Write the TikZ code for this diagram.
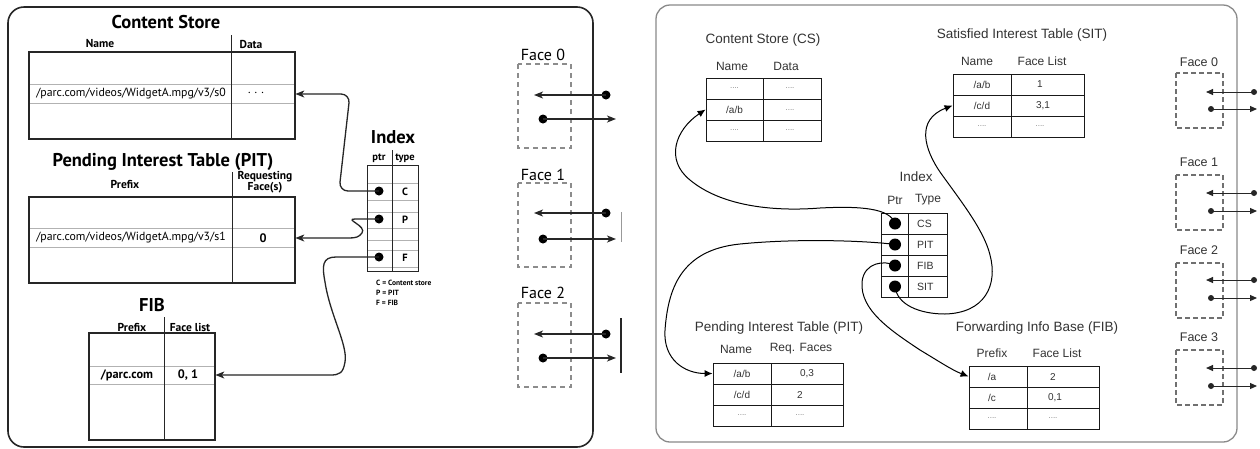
\documentclass[tikz,border=0pt]{standalone}
\usepackage{fontspec}
\newfontfamily\lsans{PT Sans}
\newfontfamily\rsans{Liberation Sans}
\usetikzlibrary{arrows.meta}
\definecolor{rtext}{HTML}{333333}
\definecolor{rgrid}{HTML}{8A8A8A}
\definecolor{ldash}{HTML}{8C8C8C}
\definecolor{rdash}{HTML}{707070}

\tikzset{
  lpanel/.style={draw=black!85, line width=1.6pt, rounded corners=16pt},
  rpanel/.style={draw=rgrid, line width=1.3pt, rounded corners=14pt},
  ltitle/.style={font=\lsans\bfseries\fontsize{18.5}{20}\selectfont, inner sep=0},
  lhead/.style={font=\lsans\bfseries\fontsize{11.5}{11}\selectfont, inner sep=0, align=center},
  lsmall/.style={font=\lsans\bfseries\fontsize{10.5}{11}\selectfont, inner sep=0},
  lcell/.style={font=\lsans\fontsize{11.8}{13}\selectfont, inner sep=0},
  lbcell/.style={font=\lsans\bfseries\fontsize{12.3}{13}\selectfont, inner sep=0},
  lframe/.style={draw=black!85, line width=1.3pt, inner sep=0},
  lrow/.style={draw=black!30, line width=0.7pt, inner sep=0},
  ldiv/.style={draw=black!85, line width=1pt},
  ldot/.style={circle, fill=black, inner sep=0, minimum size=9pt},
  larrow/.style={draw=black!85, line width=1.3pt, -{Stealth[length=9pt,width=7pt,inset=2.5pt]}},
  lbox/.style={draw=ldash, line width=2pt, dash pattern=on 5pt off 4pt},
  lface/.style={font=\lsans\fontsize{16}{18}\selectfont, inner sep=0},
  llegend/.style={font=\lsans\bfseries\fontsize{7.5}{9}\selectfont, inner sep=0, anchor=west},
  rlabel/.style={font=\rsans\fontsize{13.5}{15}\selectfont, text=rtext, inner sep=0},
  rhead/.style={font=\rsans\fontsize{12}{13}\selectfont, text=rtext, inner sep=0},
  rcell/.style={font=\rsans\fontsize{10}{11}\selectfont, text=rtext, inner sep=0},
  rtype/.style={font=\rsans\fontsize{10.5}{12}\selectfont, text=rtext, inner sep=0, anchor=west},
  rfill/.style={font=\rsans\fontsize{8}{9}\selectfont, text=black!50, inner sep=0},
  rrow/.style={draw=black!90, line width=0.9pt, inner sep=0},
  rdiv/.style={draw=black!90, line width=0.9pt},
  rdot/.style={circle, fill=black, inner sep=0, minimum size=12pt},
  rarrow/.style={draw=black, line width=1pt, -{Latex[length=8pt,width=7pt]}},
  rbox/.style={draw=rdash, line width=1.2pt, dash pattern=on 5pt off 3pt},
  rface/.style={font=\rsans\fontsize{12.5}{14}\selectfont, text=rtext, inner sep=0},
  rfdot/.style={circle, fill=black!85, inner sep=0, minimum size=6pt},
  rflink/.style={draw=black!85, line width=1pt, -{Triangle[length=7pt,width=6pt]}},
}

\begin{document}
\begin{tikzpicture}[x={(1pt,0)}, y={(0,-1pt)}]
\useasboundingbox (0,0) rectangle (1260,448);
\fill[white] (0,0) rectangle (1260,448);

% ================= left router =================
\draw[lpanel] (8,7) rectangle (593,447);

% Content Store
\node[ltitle] (lcs-title) at (166,22) {Content Store};
\node[lhead] (lcs-h1) at (100,44) {Name};
\node[lhead] (lcs-h2) at (251,44) {Data};
\node[lrow, minimum width=266pt, minimum height=19pt] (lcs-r2) at (162,94) {};
\node[lframe, minimum width=266pt, minimum height=87pt] (lcs) at (162,95.5) {};
\draw[ldiv] (231,35) -- (231,139);
\node[lcell] (lcs-name) at (131,94) {/parc.com/videos/WidgetA.mpg/v3/s0};
\node[lcell] (lcs-data) at (256,93) {. . .};

% Pending Interest Table
\node[ltitle] (lpit-title) at (163,162) {Pending Interest Table (PIT)};
\node[lhead] (lpit-h1) at (125,184) {Prefix};
\node[lhead] (lpit-h2) at (265,182) {Requesting\\Face(s)};
\node[lrow, minimum width=266pt, minimum height=19pt] (lpit-r2) at (162,238) {};
\node[lframe, minimum width=266pt, minimum height=86pt] (lpit) at (162,240) {};
\draw[ldiv] (232,172) -- (232,283);
\node[lcell] (lpit-name) at (131,238) {/parc.com/videos/WidgetA.mpg/v3/s1};
\node[lbcell] (lpit-face) at (263,238) {0};

% Forwarding Information Base
\node[ltitle] (lfib-title) at (152,305) {FIB};
\node[lhead] (lfib-h1) at (132,327) {Prefix};
\node[lhead] (lfib-h2) at (190,327) {Face list};
\node[lrow, minimum width=126pt, minimum height=18pt] (lfib-r2) at (152,375) {};
\node[lframe, minimum width=126pt, minimum height=107pt] (lfib) at (152,386.5) {};
\draw[ldiv] (164,317) -- (164,440);
\node[lbcell] (lfib-name) at (127,375) {/parc.com};
\node[lbcell] (lfib-face) at (188,375) {0, 1};

% Index
\node[ltitle] (lidx-title) at (393,137) {Index};
\node[lsmall] (lidx-h1) at (379,158) {ptr};
\node[lsmall] (lidx-h2) at (405,158) {type};
\node[lrow, minimum width=51pt, minimum height=17pt] (lidx-c) at (392.5,191.5) {};
\node[lrow, minimum width=51pt, minimum height=16pt] (lidx-p) at (392.5,220) {};
\node[lrow, minimum width=51pt, minimum height=10pt] (lidx-x) at (392.5,245) {};
\node[lrow, minimum width=51pt, minimum height=17pt] (lidx-f) at (392.5,258.5) {};
\node[lframe, line width=1pt, minimum width=51pt, minimum height=106pt] (lidx) at (392.5,218) {};
\draw[ldiv] (392,150) -- (392,271);
\node[ldot] (lptr-c) at (379,191) {};
\node[ldot] (lptr-p) at (379,219) {};
\node[ldot] (lptr-f) at (379,257) {};
\node[lsmall] (ltype-c) at (405,192) {C};
\node[lsmall] (ltype-p) at (405,220) {P};
\node[lsmall] (ltype-f) at (405,258) {F};
\node[llegend] (lkey-c) at (376,283) {C = Content store};
\node[llegend] (lkey-p) at (376,293) {P = PIT};
\node[llegend] (lkey-f) at (376,303) {F = FIB};

% index pointers
\draw[larrow, rounded corners=9pt] (lptr-c.center) -- (339,191) -- (350,94) -- (lcs-r2.east);
\draw[larrow] (lptr-p.center) -- (355,219)
  .. controls (344,219) and (367,226) .. (362,233)
  .. controls (359,237) and (356,238) .. (349,238) -- (lpit-r2.east);
\draw[larrow] (lptr-f.center) -- (336,257)
  .. controls (322,257) and (322,266) .. (325,282)
  .. controls (330,315) and (348,345) .. (345,362)
  .. controls (343,373) and (340,375) .. (330,375) -- (lfib-r2.east);

% faces
\foreach \n/\ty/\by/\ay/\byy in {0/55/64/95/119, 1/175/183/213/239, 2/293/303/334/358} {
  \node[lface] (lface\n-label) at (543,\ty) {Face \n};
  \draw[lbox] (518,\by) rectangle (571,\by+84);
  \node[ldot] (lface\n-in) at (606,\ay) {};
  \coordinate (lface\n-inend) at (534,\ay);
  \draw[larrow] (lface\n-in.center) -- (lface\n-inend);
  \node[ldot] (lface\n-out) at (543,\byy) {};
  \coordinate (lface\n-outend) at (616,\byy);
  \draw[larrow] (lface\n-out.center) -- (lface\n-outend);
}
\draw[black!40, line width=0.8pt] (621,212) -- (621,242);
\draw[black!85, line width=1.5pt] (621,318) -- (621,373);

% ================= right router =================
\draw[rpanel] (656,5) rectangle (1237,442);

% Content Store
\node[rlabel] (rcs-title) at (763,40) {Content Store (CS)};
\node[rhead] (rcs-h1) at (732,66) {Name};
\node[rhead] (rcs-h2) at (786,66) {Data};
\node[rrow, minimum width=115pt, minimum height=21pt] (rcs-r1) at (763.5,88.5) {};
\node[rrow, minimum width=115pt, minimum height=21pt] (rcs-r2) at (763.5,109.5) {};
\node[rrow, minimum width=115pt, minimum height=21pt] (rcs-r3) at (763.5,130.5) {};
\draw[rdiv] (763,78) -- (763,141);
\node[rfill] at (734.5,88.5) {....};
\node[rfill] at (790,88.5) {....};
\node[rcell] at (734.5,109.5) {/a/b};
\node[rfill] at (790,110.5) {....};
\node[rfill] at (734.5,130.5) {....};
\node[rfill] at (790,130.5) {....};

% Satisfied Interest Table
\node[rlabel] (rsit-title) at (1022,35) {Satisfied Interest Table (SIT)};
\node[rhead] (rsit-h1) at (977,61) {Name};
\node[rhead] (rsit-h2) at (1042,61) {Face List};
\node[rrow, minimum width=131pt, minimum height=21pt] (rsit-r1) at (1018.5,84.5) {};
\node[rrow, minimum width=131pt, minimum height=21pt] (rsit-r2) at (1018.5,105.5) {};
\node[rrow, minimum width=131pt, minimum height=21pt] (rsit-r3) at (1018.5,126.5) {};
\draw[rdiv] (1011,74) -- (1011,137);
\node[rcell] at (982,84.5) {/a/b};
\node[rcell] at (1040,84.5) {1};
\node[rcell] at (982,105.5) {/c/d};
\node[rcell] at (1043,105.5) {3,1};
\node[rfill] at (982,126.5) {....};
\node[rfill] at (1040,126.5) {....};

% Index
\node[rlabel] (ridx-title) at (916,177) {Index};
\node[rhead] (ridx-h1) at (895,200) {Ptr};
\node[rhead] (ridx-h2) at (928,200) {Type};
\node[rrow, minimum width=66pt, minimum height=21pt] (ridx-cs) at (914,223.5) {};
\node[rrow, minimum width=66pt, minimum height=21pt] (ridx-pit) at (914,244.5) {};
\node[rrow, minimum width=66pt, minimum height=21pt] (ridx-fib) at (914,265.5) {};
\node[rrow, minimum width=66pt, minimum height=21pt] (ridx-sit) at (914,286.5) {};
\draw[rdiv] (908,213) -- (908,297);
\node[rtype] at (917,223.5) {CS};
\node[rtype] at (917,244.5) {PIT};
\node[rtype] at (917,265.5) {FIB};
\node[rtype] at (917,286.5) {SIT};
\node[rdot] (rptr-cs) at (895,223.5) {};
\node[rdot] (rptr-pit) at (895,244.5) {};
\node[rdot] (rptr-fib) at (895,265.5) {};
\node[rdot] (rptr-sit) at (895,286.5) {};

% Pending Interest Table
\node[rlabel] (rpit-title) at (779,328) {Pending Interest Table (PIT)};
\node[rhead] (rpit-h1) at (736,349) {Name};
\node[rhead] (rpit-h2) at (801,349) {Req. Faces};
\node[rrow, minimum width=130pt, minimum height=21pt] (rpit-r1) at (778,373.5) {};
\node[rrow, minimum width=130pt, minimum height=21pt] (rpit-r2) at (778,394.5) {};
\node[rrow, minimum width=130pt, minimum height=21pt] (rpit-r3) at (778,415.5) {};
\draw[rdiv] (771,363) -- (771,426);
\node[rcell] at (742,373.5) {/a/b};
\node[rcell] at (807,373.5) {0,3};
\node[rcell] at (742,394.5) {/c/d};
\node[rcell] at (800,394.5) {2};
\node[rfill] at (742,415.5) {....};
\node[rfill] at (800,415.5) {....};

% Forwarding Info Base
\node[rlabel] (rfib-title) at (1037,328) {Forwarding Info Base (FIB)};
\node[rhead] (rfib-h1) at (992,353) {Prefix};
\node[rhead] (rfib-h2) at (1057,353) {Face List};
\node[rrow, minimum width=130pt, minimum height=21pt] (rfib-r1) at (1034,376.5) {};
\node[rrow, minimum width=130pt, minimum height=21pt] (rfib-r2) at (1034,397.5) {};
\node[rrow, minimum width=130pt, minimum height=21pt] (rfib-r3) at (1034,418.5) {};
\draw[rdiv] (1027,366) -- (1027,429);
\node[rcell] at (992,376.5) {/a};
\node[rcell] at (1053,376.5) {2};
\node[rcell] at (992,397.5) {/c};
\node[rcell] at (1055,397.5) {0,1};
\node[rfill] at (992,418.5) {....};
\node[rfill] at (1053,418.5) {....};

% index pointers
\draw[rarrow] (rptr-cs.center) .. controls (890,208) and (860,206) .. (820,208)
  .. controls (770,212) and (720,205) .. (690,180)
  .. controls (665,160) and (675,130) .. (rcs-r2.west);
\draw[rarrow] (rptr-pit.center) .. controls (870,241) and (800,238) .. (740,244)
  .. controls (680,250) and (668,290) .. (665,330)
  .. controls (663,360) and (685,373.5) .. (rpit-r1.west);
\draw[rarrow] (rptr-fib.center) .. controls (885,260) and (864,262) .. (862,282)
  .. controls (860,310) and (890,330) .. (920,350)
  .. controls (940,362) and (952,370) .. (rfib-r1.west);
\draw[rarrow] (rptr-sit.center) .. controls (897,305) and (920,314) .. (945,314)
  .. controls (985,313) and (998,285) .. (990,255)
  .. controls (984,230) and (960,200) .. (940,172)
  .. controls (925,150) and (915,120) .. (rsit-r2.west);

% faces
\foreach \n/\ty/\by/\ay/\byy in {0/62/73/92/109, 1/162/175/193/211, 2/250/263/280/298, 3/337/350/368/386} {
  \node[rface] (rface\n-label) at (1199,\ty) {Face \n};
  \draw[rbox] (1176,\by) rectangle (1223,\by+55);
  \node[rfdot] (rface\n-in) at (1254,\ay) {};
  \coordinate (rface\n-inend) at (1206,\ay);
  \draw[rflink] (rface\n-in.center) -- (rface\n-inend);
  \node[rfdot] (rface\n-out) at (1211,\byy) {};
  \coordinate (rface\n-outend) at (1257,\byy);
  \draw[rflink] (rface\n-out.center) -- (rface\n-outend);
}
\end{tikzpicture}
\end{document}
